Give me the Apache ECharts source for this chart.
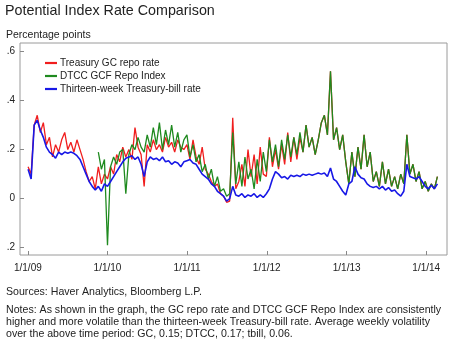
<!DOCTYPE html>
<html><head><meta charset="utf-8">
<script src="https://cdn.jsdelivr.net/npm/echarts@6/dist/echarts.min.js"></script>
<style>html,body{margin:0;padding:0;background:#fff}#c{width:450px;height:349px}</style>
</head><body><div id="c"></div>
<script>
// sampling grid: one observation every 14 days starting 2 Jan 2009
const startDate = [2009, 0, 2];
const stepDays = 14;

const seriesNames = ['Treasury GC repo rate', 'DTCC GCF Repo Index', 'Thirteen-week Treasury-bill rate'];

const gcRepo = [
  0.13,0.10,0.30,0.34,0.27,0.31,0.22,0.25,0.17,0.22,0.19,0.24,0.27,0.20,0.23,0.19,0.24,0.20,0.16,0.11,0.07,0.09,0.04,0.13,0.06,0.10,
  0.08,0.13,0.10,0.18,0.15,0.21,0.17,0.20,0.16,0.29,0.21,0.18,0.05,0.22,0.19,0.24,0.20,0.22,0.19,0.25,0.21,0.23,0.19,0.24,0.21,0.20,
  0.22,0.16,0.24,0.17,0.14,0.21,0.12,0.10,0.07,0.05,0.06,0.02,0.01,-0.015,-0.01,0.33,0.04,0.07,0.14,0.05,0.20,0.09,0.18,0.06,0.21,0.10,
  0.09,0.25,0.13,0.20,0.12,0.22,0.14,0.27,0.15,0.25,0.16,0.25,0.19,0.30,0.21,0.25,0.18,0.24,0.31,0.34,0.26,0.52,0.24,0.29,0.20,0.26,
  0.15,0.06,0.19,0.09,0.21,0.12,0.26,0.13,0.19,0.07,0.11,0.05,0.15,0.06,0.12,0.05,0.09,0.04,0.10,0.06,0.26,0.10,0.14,0.07,0.11,0.04,
  0.07,0.03,0.06,0.04,0.09
];

const dtccGcf = [
  null,null,null,null,null,null,null,null,null,null,null,null,null,null,null,null,null,null,null,null,null,null,null,0.19,0.12,0.16,
  -0.19,0.13,0.17,0.14,0.19,0.20,0.02,0.18,0.22,0.20,0.25,0.21,0.19,0.26,0.21,0.29,0.22,0.31,0.20,0.28,0.22,0.30,0.21,0.27,0.19,0.24,
  0.26,0.17,0.22,0.15,0.18,0.11,0.14,0.08,0.12,0.05,0.09,0.03,0.04,0.01,0.02,0.27,0.06,0.15,0.05,0.17,0.08,0.12,0.04,0.16,0.07,0.19,
  0.11,0.24,0.15,0.22,0.13,0.24,0.16,0.26,0.17,0.25,0.18,0.27,0.19,0.30,0.21,0.25,0.18,0.24,0.31,0.34,0.26,0.52,0.24,0.29,0.20,0.26,
  0.15,0.06,0.19,0.09,0.21,0.12,0.26,0.13,0.19,0.07,0.11,0.05,0.15,0.06,0.12,0.05,0.09,0.04,0.10,0.06,0.26,0.10,0.14,0.07,0.11,0.04,
  0.07,0.03,0.06,0.04,0.09
];

const tbill = [
  0.12,0.08,0.30,0.32,0.28,0.25,0.21,0.19,0.18,0.165,0.19,0.18,0.19,0.185,0.19,0.185,0.175,0.16,0.13,0.10,0.07,0.05,0.035,0.05,0.03,0.06,
  0.05,0.07,0.09,0.11,0.13,0.15,0.165,0.17,0.175,0.16,0.17,0.14,0.09,0.15,0.17,0.16,0.165,0.155,0.17,0.15,0.155,0.14,0.15,0.145,0.13,0.15,
  0.155,0.16,0.145,0.14,0.12,0.10,0.09,0.08,0.06,0.05,0.03,0.02,0.01,-0.01,0.0,0.05,0.015,0.01,0.02,0.005,0.015,0.01,0.02,0.005,0.015,0.005,
  0.02,0.04,0.08,0.11,0.10,0.085,0.09,0.08,0.095,0.09,0.095,0.09,0.10,0.095,0.10,0.095,0.10,0.105,0.10,0.105,0.09,0.125,0.08,0.07,0.05,0.03,
  0.015,0.06,0.07,0.13,0.10,0.085,0.08,0.06,0.05,0.045,0.05,0.04,0.05,0.035,0.045,0.03,0.035,0.02,0.01,0.03,0.14,0.09,0.085,0.08,0.09,0.07,
  0.05,0.04,0.055,0.04,0.06
];

const xRange = ['2008-11-26', '2014-04-06'];
const yRange = [-0.23, 0.635];

const titleText = 'Potential Index Rate Comparison';
const unitText = 'Percentage points';
const sourceText = 'Sources: Haver Analytics, Bloomberg L.P.';
const noteLines = [
  'Notes: As shown in the graph, the GC repo rate and DTCC GCF Repo Index are consistently',
  'higher and more volatile than the thirteen-week Treasury-bill rate. Average weekly volatility',
  'over the above time period: GC, 0.15; DTCC, 0.17; tbill, 0.06.'
];

const t0 = Date.UTC(startDate[0], startDate[1], startDate[2]);
const dates = gcRepo.map((_, i) => t0 + i * stepDays * 864e5);
const pairs = arr => arr.map((v, i) => [dates[i], v]);

const FONT = '"Liberation Sans", Arial, sans-serif';
const chart = echarts.init(document.getElementById('c'), null, {renderer: 'canvas'});
const txt = (s, x, y, size) => ({
  type: 'text', x: x, y: y, silent: true,
  style: {text: s, font: size + 'px ' + FONT, fill: '#222', verticalAlign: 'middle'}
});

chart.setOption({
  animation: false,
  useUTC: true,
  backgroundColor: '#fff',
  grid: {left: 20, right: 3, top: 43, bottom: 94, show: true, borderColor: '#9a9a9a', borderWidth: 1, backgroundColor: 'transparent'},
  legend: {
    data: seriesNames, orient: 'vertical', left: 45, top: 58, padding: 0,
    icon: 'rect', itemWidth: 12, itemHeight: 2.2, itemGap: 3,
    textStyle: {fontFamily: FONT, fontSize: 10, color: '#222', padding: [0, 0, 0, -2], lineHeight: 10}
  },
  xAxis: {
    type: 'time', min: xRange[0], max: xRange[1],
    minInterval: 365 * 864e5, maxInterval: 366 * 864e5,
    axisLine: {show: false, onZero: false},
    axisTick: {show: true, inside: true, length: 4, lineStyle: {color: '#888'}},
    splitLine: {show: false},
    axisLabel: {
      show: true, margin: 8, color: '#222', fontFamily: FONT, fontSize: 10,
      showMinLabel: false, showMaxLabel: false, hideOverlap: false,
      formatter: function (val) {
        const d = new Date(val);
        if (d.getUTCMonth() === 0 && d.getUTCDate() === 1) return '1/1/' + String(d.getUTCFullYear()).slice(2);
        return '';
      }
    }
  },
  yAxis: {
    type: 'value', min: yRange[0], max: yRange[1],
    axisLine: {show: false, onZero: false},
    axisTick: {show: true, inside: true, length: 4, lineStyle: {color: '#888'}},
    splitLine: {show: false},
    axisLabel: {
      margin: 5, color: '#222', fontFamily: FONT, fontSize: 10,
      showMinLabel: false, showMaxLabel: false,
      formatter: v => Math.abs(v) < 1e-9 ? '0' : '.' + Math.round(Math.abs(v) * 10)
    }
  },
  series: [
    {name: seriesNames[0], type: 'line', data: pairs(gcRepo), symbol: 'none', showSymbol: false,
     lineStyle: {color: '#f01e1e', width: 1.3}, itemStyle: {color: '#f01e1e'}, z: 2},
    {name: seriesNames[1], type: 'line', data: pairs(dtccGcf), symbol: 'none', showSymbol: false, connectNulls: false,
     lineStyle: {color: '#1f8a1f', width: 1.3}, itemStyle: {color: '#1f8a1f'}, z: 3},
    {name: seriesNames[2], type: 'line', data: pairs(tbill), symbol: 'none', showSymbol: false,
     lineStyle: {color: '#1818e6', width: 1.6}, itemStyle: {color: '#1818e6'}, z: 4}
  ],
  graphic: [
    txt(titleText, 5, 11, 14.3),
    txt(unitText, 6, 35, 10.5),
    txt(sourceText, 6, 292, 10.6),
    txt(noteLines[0], 6, 310.5, 10.6),
    txt(noteLines[1], 6, 322.3, 10.6),
    txt(noteLines[2], 6, 334, 10.6)
  ]
});
</script>
</body></html>
